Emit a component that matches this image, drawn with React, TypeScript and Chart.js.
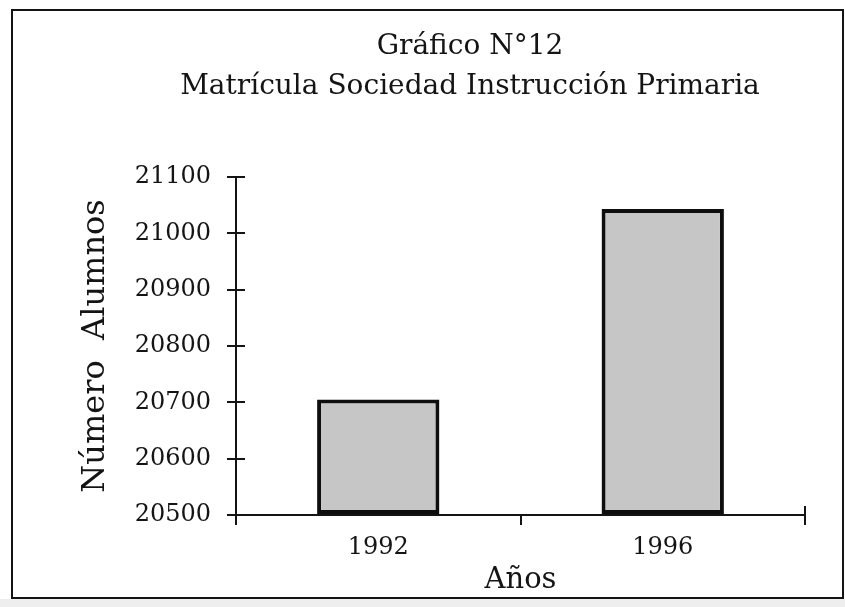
import React, { useEffect, useRef } from "react";
import { Chart, registerables } from "chart.js";

Chart.register(...registerables);

// ---- data ----
const categories = ["1992", "1996"];
const enrolment = [20705, 21043];
const yMin = 20500;
const yMax = 21100;
const yStep = 100;
const titleLines = ["Gráfico N°12", "Matrícula Sociedad Instrucción Primaria"];
const yTitle = "Número  Alumnos";
const xTitle = "Años";

const FONT = "'DejaVu Serif', 'Liberation Serif', serif";
const INK = "#141414";

const framePlugin = {
  id: "frame",
  beforeDraw(chart: any) {
    const { ctx, width, height } = chart;
    ctx.save();
    ctx.fillStyle = "#ffffff";
    ctx.fillRect(0, 0, width, height);
    ctx.fillStyle = "#eeeeee";
    ctx.fillRect(0, 599, width, height - 599);
    ctx.strokeStyle = INK;
    ctx.lineWidth = 2;
    ctx.strokeRect(12, 10, 831, 588);
    ctx.restore();
  },
  afterDraw(chart: any) {
    const { ctx, chartArea, scales } = chart;
    const y = scales.y;
    ctx.save();
    ctx.strokeStyle = INK;
    ctx.lineWidth = 2;
    ctx.beginPath();
    y.ticks.forEach((t: any) => {
      const py = Math.round(y.getPixelForValue(t.value));
      ctx.moveTo(chartArea.left, py);
      ctx.lineTo(chartArea.left + 9, py);
    });
    ctx.moveTo(Math.round(chartArea.right), chartArea.bottom - 9);
    ctx.lineTo(Math.round(chartArea.right), chartArea.bottom);
    ctx.stroke();
    ctx.restore();
  },
};

export default function App() {
  const ref = useRef<HTMLCanvasElement | null>(null);

  useEffect(() => {
    if (!ref.current) return;
    const chart = new Chart(ref.current, {
      type: "bar",
      data: {
        labels: categories,
        datasets: [
          {
            data: enrolment,
            base: yMin,
            backgroundColor: "#c6c6c6",
            borderColor: "#0e0e0e",
            borderWidth: 4,
            borderSkipped: false,
            barPercentage: 0.43,
            categoryPercentage: 1,
          } as any,
        ],
      },
      options: {
        responsive: false,
        animation: false,
        devicePixelRatio: 1,
        layout: { padding: { left: 135, right: 40, top: 0, bottom: 0 } },
        plugins: {
          legend: { display: false },
          tooltip: { enabled: false },
          title: {
            display: true,
            text: titleLines,
            color: INK,
            font: { family: FONT, size: 28, weight: "normal", lineHeight: "40px" } as any,
            padding: { top: 27, bottom: 70 },
          },
        },
        scales: {
          x: {
            type: "category",
            offset: true,
            grid: {
              offset: true,
              drawOnChartArea: false,
              drawTicks: true,
              tickLength: 10,
              color: INK,
              lineWidth: 2,
            },
            border: { display: true, color: INK, width: 2 },
            ticks: { color: INK, font: { family: FONT, size: 24 }, padding: 8 },
            title: {
              display: true,
              text: xTitle,
              color: INK,
              font: { family: FONT, size: 29 },
              padding: { top: 0, bottom: 9 },
            },
            afterFit: (s: any) => {
              s.height = 92;
            },
          },
          y: {
            type: "linear",
            min: yMin,
            max: yMax,
            grid: {
              drawOnChartArea: false,
              drawTicks: true,
              tickLength: 9,
              color: INK,
              lineWidth: 2,
            },
            border: { display: true, color: INK, width: 2 },
            ticks: {
              stepSize: yStep,
              color: INK,
              font: { family: FONT, size: 24 },
              padding: 16,
              callback: (v: any) => String(v),
            },
            title: {
              display: true,
              text: yTitle,
              color: INK,
              font: { family: FONT, size: 32 },
              padding: { top: -59, bottom: 0 },
            },
            afterFit: (s: any) => {
              s.width = 101;
            },
          },
        },
      },
      plugins: [framePlugin],
    });
    return () => chart.destroy();
  }, []);

  return (
    <div style={{ position: "absolute", left: 0, top: 0, width: 845, height: 607 }}>
      <canvas ref={ref} width={845} height={607} />
    </div>
  );
}
